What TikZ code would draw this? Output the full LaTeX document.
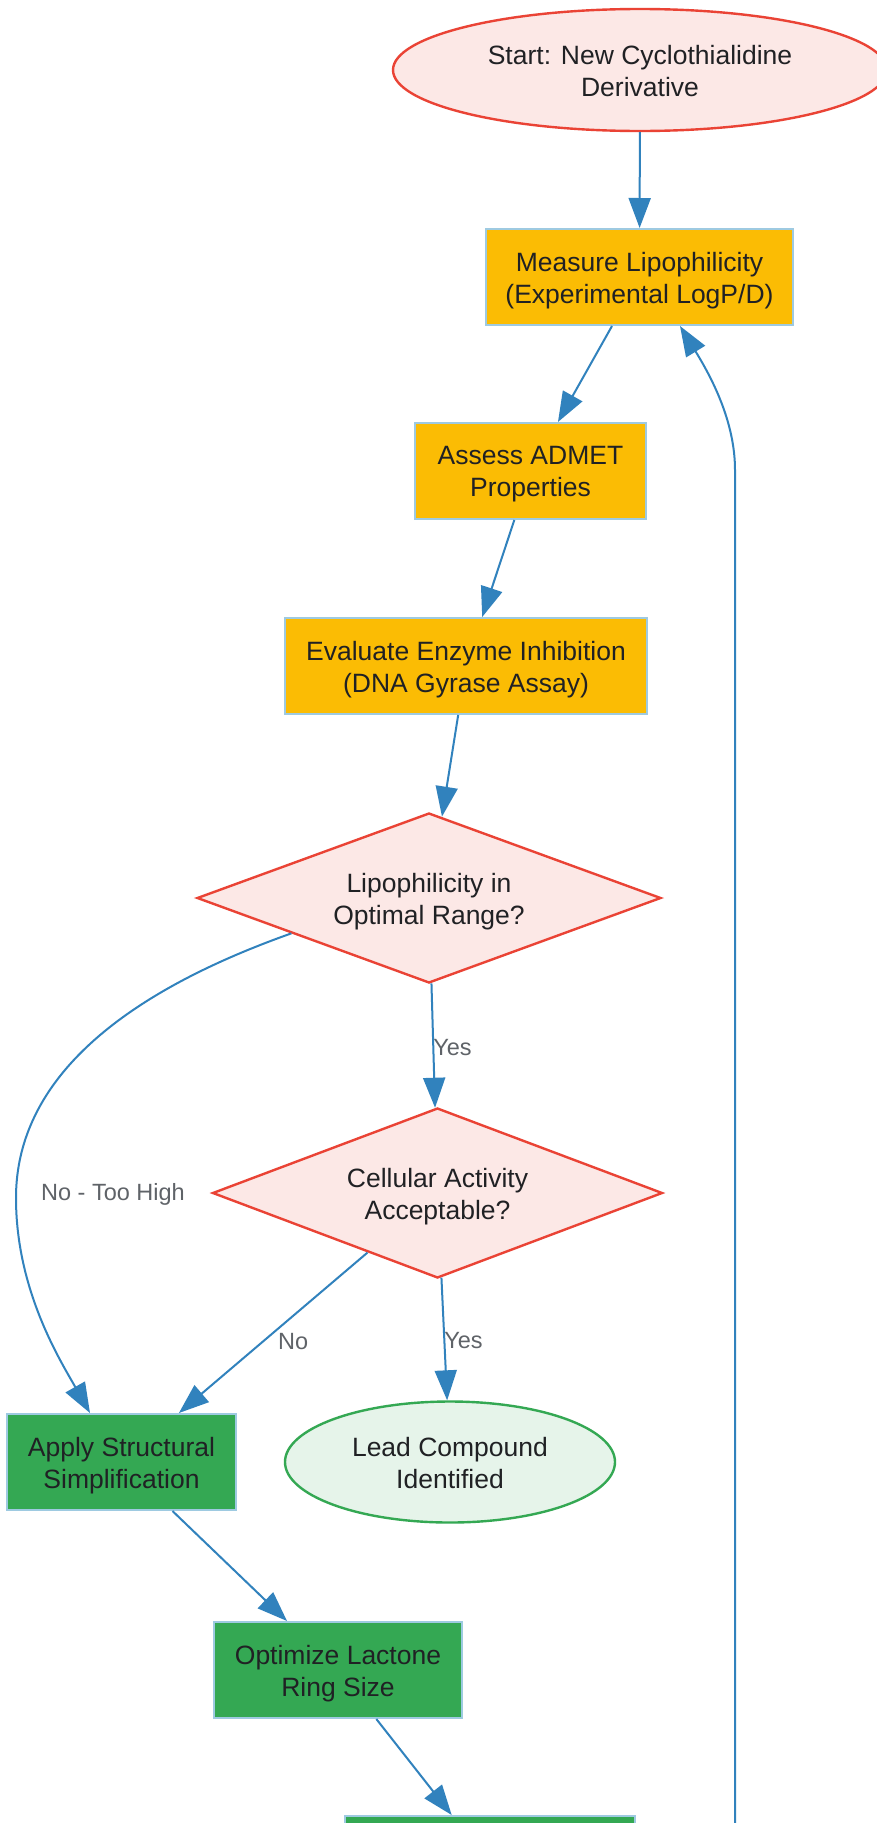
\documentclass[tikz,border=0pt]{standalone}
\usepackage{fontspec}
\setmainfont{Liberation Sans}
\usetikzlibrary{shapes.geometric,arrows.meta,calc}
\definecolor{lineblue}{HTML}{3182BD}
\definecolor{procorange}{HTML}{FBBC04}
\definecolor{boxborder}{HTML}{9ECAE1}
\definecolor{procgreen}{HTML}{34A853}
\definecolor{pinkfill}{HTML}{FCE8E6}
\definecolor{redline}{HTML}{EA4335}
\definecolor{greenfill}{HTML}{E6F4EA}
\definecolor{textdark}{HTML}{202124}
\definecolor{labelgray}{HTML}{5F6368}
\begin{document}
\begin{tikzpicture}[x=1pt,y=-1pt,
  every node/.style={font=\fontsize{26.5}{32}\selectfont, text=textdark, align=center, inner sep=0pt},
  txt/.style={label={[yshift=-3.5pt]center:{#1}}},
  etxt/.style={label={[yshift=-1pt]center:{#1}}},
  procbox/.style={rectangle, draw=boxborder, line width=2pt, fill=procorange, minimum width=#1, minimum height=96pt},
  greenbox/.style={rectangle, draw=boxborder, line width=2pt, fill=procgreen, minimum width=#1, minimum height=96pt},
  startell/.style={ellipse, draw=redline, line width=2.4pt, fill=pinkfill, minimum width=494pt, minimum height=122pt},
  leadell/.style={ellipse, draw=procgreen, line width=2.4pt, fill=greenfill, minimum width=330pt, minimum height=121pt},
  decision/.style={diamond, draw=redline, line width=2.4pt, fill=pinkfill, minimum width=#1, minimum height=170pt},
  edgelabel/.style={font=\fontsize{23.5}{28}\selectfont, text=labelgray},
  arr/.style={draw=lineblue, line width=2pt, -{Triangle[length=30pt,width=22pt]}}
]
\path[use as bounding box] (0,0) rectangle (877,1823);
\clip (0,0) rectangle (877,1823);
\fill[white] (0,0) rectangle (877,1823);

% nodes
\node[startell, etxt={Start: New Cyclothialidine\\Derivative}] (start) at (640,70) {};
\node[procbox=307pt, txt={Measure Lipophilicity\\(Experimental LogP/D)}] (measure) at (639.5,277) {};
\node[procbox=231pt, txt={Assess ADMET\\Properties}] (admet) at (530.5,471) {};
\node[procbox=362pt, txt={Evaluate Enzyme Inhibition\\(DNA Gyrase Assay)}] (evalx) at (466,666) {};
\node[decision=464pt, txt={Lipophilicity in\\Optimal Range?}] (d1) at (429,898) {};
\node[decision=450pt, txt={Cellular Activity\\Acceptable?}] (d2) at (437.5,1193) {};
\node[greenbox=229pt, txt={Apply Structural\\Simplification}] (apply) at (121.5,1462) {};
\node[leadell, etxt={Lead Compound\\Identified}] (lead) at (450,1462) {};
\node[greenbox=248pt, txt={Optimize Lactone\\Ring Size}] (lactone) at (338,1670) {};
\node[greenbox=290pt] (nextbox) at (490,1864) {};
\coordinate (loopstart) at (735,1900);

% connectors
\draw[arr] (start) -- (measure);
\draw[arr] (measure) -- (admet);
\draw[arr] (admet) -- (evalx);
\draw[arr] (evalx) -- (d1);
\draw[arr] (d1) -- node[edgelabel, anchor=west, xshift=-1pt, yshift=-2pt]{Yes} (d2);
\draw[arr] (d2) -- node[edgelabel, anchor=west, xshift=-1pt, yshift=-2pt]{Yes} (lead);
\draw[arr] (d2) -- node[edgelabel, xshift=20pt, yshift=-9pt]{No} (apply);
\draw[arr] ($(d1.west)!0.41!(d1.south)$) .. controls (160,980) and (16,1060) .. (16,1198)
  .. controls (16,1290) and (60,1360) .. ([xshift=-31.5pt]apply.north);
\node[edgelabel] (toohigh) at (113,1194) {No - Too High};
\draw[arr] (apply) -- (lactone);
\draw[arr] (lactone) -- (nextbox);
\draw[arr] (loopstart) -- (735,470) .. controls (735,420) and (710,375) .. ([xshift=40.5pt]measure.south);
\end{tikzpicture}
\end{document}
